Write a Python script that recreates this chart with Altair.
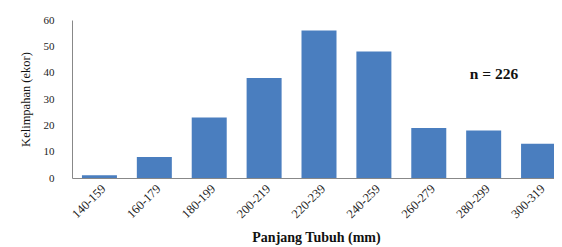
import altair as alt
import pandas as pd

categories = ["140-159", "160-179", "180-199", "200-219", "220-239",
              "240-259", "260-279", "280-299", "300-319"]
counts = [1, 8, 23, 38, 56, 48, 19, 18, 13]
y_ticks = [0, 10, 20, 30, 40, 50, 60]
annotation = "n = 226"

df = pd.DataFrame({"kelas": categories, "jumlah": counts})

font = "Liberation Serif"

bars = alt.Chart(df).mark_bar(color="#4A7EBF", size=35).encode(
    x=alt.X("kelas:N", sort=categories,
            scale=alt.Scale(paddingInner=0.35, paddingOuter=0.175, range=[0, 494]),
            axis=alt.Axis(title="Panjang Tubuh (mm)", labelAngle=-45,
                          labelFont=font, labelFontSize=12.5, labelColor="#222",
                          ticks=False, labelPadding=4, domainColor="#888",
                          titleFont=font, titleFontSize=14, titleFontWeight="bold",
                          titleColor="#111", titlePadding=10,
                          titleX=244, titleAnchor="middle")),
    y=alt.Y("jumlah:Q", scale=alt.Scale(domain=[0, 60], nice=False),
            axis=alt.Axis(title="Kelimpahan (ekor)", values=y_ticks, grid=False,
                          ticks=False, labelPadding=18, labelFont=font,
                          labelFontSize=11, labelColor="#222", domainColor="#888",
                          titleFont=font, titleFontSize=12.5, titleFontWeight="normal",
                          titleColor="#111", titlePadding=11)),
)

label = alt.Chart(pd.DataFrame({"t": [annotation]})).mark_text(
    font=font, fontSize=15.5, fontWeight="bold", color="#111", align="center"
).encode(x=alt.value(422), y=alt.value(54), text="t:N")

chart = alt.layer(bars, label).properties(
    width=482, height=158,
    autosize=alt.AutoSizeParams(type="none"),
    padding={"left": 64, "top": 12, "right": 0, "bottom": 69},
).configure_view(stroke=None)

chart.save("out.html", embed_options={"renderer": "svg", "actions": False})
